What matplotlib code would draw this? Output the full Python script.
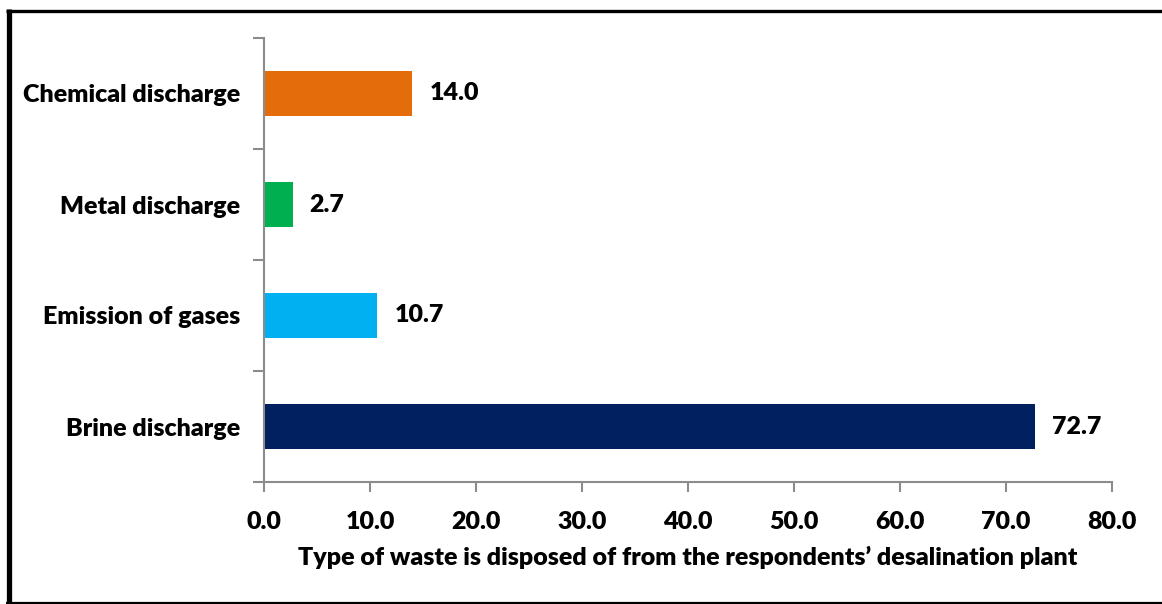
import matplotlib
matplotlib.use("Agg")
import matplotlib.pyplot as plt
from matplotlib.lines import Line2D

categories = ["Brine discharge", "Emission of gases", "Metal discharge", "Chemical discharge"]
values = [72.7, 10.7, 2.7, 14.0]
colors = ["#002060", "#00B0F0", "#00B050", "#E46C0A"]
xticks = [0, 10, 20, 30, 40, 50, 60, 70, 80]
xlabel = "Type of waste is disposed of from the respondents\u2019 desalination plant"

plt.rcParams["font.family"] = ["Lato", "DejaVu Sans"]
WEIGHT = "heavy"
FS = 18

W, H = 1162, 604
fig = plt.figure(figsize=(W / 100, H / 100), dpi=100)
ax = fig.add_axes([264 / W, 1 - 482 / H, (1112 - 264) / W, (482 - 38) / H])

pos = list(range(len(categories)))
ax.barh(pos, values, height=0.4, color=colors)
for p, v in zip(pos, values):
    ax.text(v + 1.6, p, f"{v:.1f}", va="center", ha="left",
            fontsize=FS, fontweight=WEIGHT, color="black")

ax.set_xlim(0, 80)
ax.set_ylim(-0.5, len(categories) - 0.5)
ax.set_xticks(xticks)
ax.set_xticklabels([f"{t:.1f}" for t in xticks], fontsize=FS, fontweight=WEIGHT)
ax.set_yticks(pos)
ax.set_yticklabels(categories, fontsize=FS, fontweight=WEIGHT)
ax.set_yticks([-0.5, 0.5, 1.5, 2.5, 3.5], minor=True)
ax.tick_params(axis="y", which="major", length=0, pad=17)
ax.tick_params(axis="y", which="minor", length=8, width=1.5, color="#8c8c8c")
ax.tick_params(axis="x", which="major", length=7, width=1.5, color="#8c8c8c", pad=14)

for s in ["top", "right"]:
    ax.spines[s].set_visible(False)
for s in ["left", "bottom"]:
    ax.spines[s].set_color("#8c8c8c")
    ax.spines[s].set_linewidth(1.5)

ax.set_xlabel(xlabel, fontsize=FS, fontweight=WEIGHT, labelpad=9)

# outer frame lines (left, top, bottom)
fig.add_artist(Line2D([8.5 / W, 8.5 / W], [0, 1 - 9 / H], color="black", lw=3.8,
                      transform=fig.transFigure, solid_capstyle="butt"))
fig.add_artist(Line2D([6 / W, 1], [1 - 10.5 / H, 1 - 10.5 / H], color="black", lw=2.4,
                      transform=fig.transFigure, solid_capstyle="butt"))
fig.add_artist(Line2D([6 / W, 1], [1 - 602.5 / H, 1 - 602.5 / H], color="black", lw=1.6,
                      transform=fig.transFigure, solid_capstyle="butt"))

fig.savefig("out.png", dpi=100, facecolor="white")
